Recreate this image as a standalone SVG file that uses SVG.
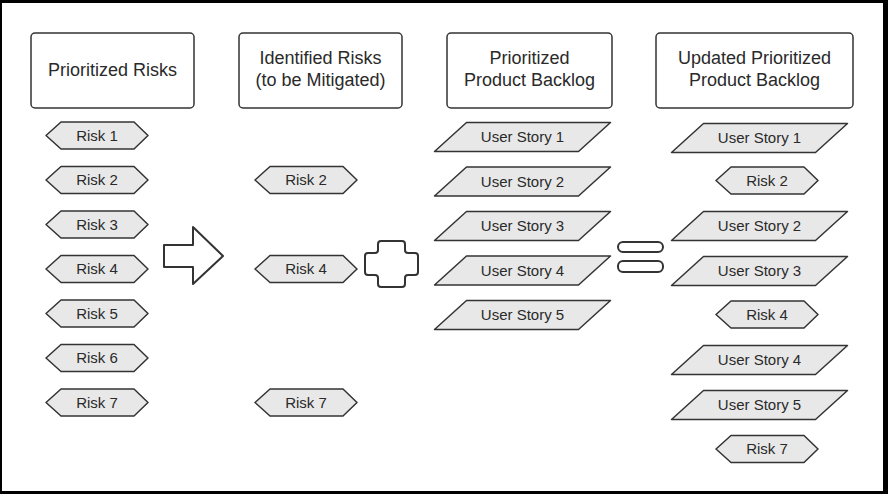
<svg xmlns="http://www.w3.org/2000/svg" xmlns:xlink="http://www.w3.org/1999/xlink" width="888" height="496" viewBox="0 0 888 496">
<style>
text{font-family:"Liberation Sans",Arial,sans-serif;fill:#2a2a2a;text-anchor:middle}
.hdr{fill:#fff;stroke:#333;stroke-width:1.5}
.hdr-t{font-size:18px}
.item{fill:#e8e8e8;stroke:#333;stroke-width:1.5;stroke-linejoin:round}
.item-t{font-size:15px}
.op{fill:#fff;stroke:#333;stroke-width:2;stroke-linejoin:round}
</style>
<defs>
<path id="hex" d="M-51,0 L-36,-13.5 L37,-13.5 L51,0 L37,13.5 L-36,13.5 Z"/>
<path id="para" d="M-56,-14.5 L88,-14.5 L56,14.5 L-88,14.5 Z"/>
</defs>
<rect x="0" y="0" width="888" height="494" fill="#000"/>
<rect x="2" y="3" width="881" height="488" fill="#fff"/>

<g id="hdr1"><rect class="hdr" x="31" y="33" width="163" height="75" rx="4"/><text class="hdr-t" x="112.5" y="76">Prioritized Risks</text></g>
<g id="hdr2"><rect class="hdr" x="239" y="33" width="163" height="75" rx="4"/><text class="hdr-t" x="320.5" y="64">Identified Risks</text><text class="hdr-t" x="320.5" y="86">(to be Mitigated)</text></g>
<g id="hdr3"><rect class="hdr" x="447" y="33" width="165" height="75" rx="4"/><text class="hdr-t" x="529.5" y="64">Prioritized</text><text class="hdr-t" x="529.5" y="86">Product Backlog</text></g>
<g id="hdr4"><rect class="hdr" x="656" y="33" width="197" height="75" rx="4"/><text class="hdr-t" x="754.5" y="64">Updated Prioritized</text><text class="hdr-t" x="754.5" y="86">Product Backlog</text></g>

<g id="c1-risk1" transform="translate(97,135.5)"><use xlink:href="#hex" class="item"/><text class="item-t" y="5">Risk 1</text></g>
<g id="c1-risk2" transform="translate(97,180)"><use xlink:href="#hex" class="item"/><text class="item-t" y="5">Risk 2</text></g>
<g id="c1-risk3" transform="translate(97,224.5)"><use xlink:href="#hex" class="item"/><text class="item-t" y="5">Risk 3</text></g>
<g id="c1-risk4" transform="translate(97,269)"><use xlink:href="#hex" class="item"/><text class="item-t" y="5">Risk 4</text></g>
<g id="c1-risk5" transform="translate(97,313.5)"><use xlink:href="#hex" class="item"/><text class="item-t" y="5">Risk 5</text></g>
<g id="c1-risk6" transform="translate(97,358)"><use xlink:href="#hex" class="item"/><text class="item-t" y="5">Risk 6</text></g>
<g id="c1-risk7" transform="translate(97,402.5)"><use xlink:href="#hex" class="item"/><text class="item-t" y="5">Risk 7</text></g>

<g id="c2-risk2" transform="translate(306,180)"><use xlink:href="#hex" class="item"/><text class="item-t" y="5">Risk 2</text></g>
<g id="c2-risk4" transform="translate(306,269)"><use xlink:href="#hex" class="item"/><text class="item-t" y="5">Risk 4</text></g>
<g id="c2-risk7" transform="translate(306,402.5)"><use xlink:href="#hex" class="item"/><text class="item-t" y="5">Risk 7</text></g>

<g id="c3-us1" transform="translate(522.5,137)"><use xlink:href="#para" class="item"/><text class="item-t" y="5">User Story 1</text></g>
<g id="c3-us2" transform="translate(522.5,181.5)"><use xlink:href="#para" class="item"/><text class="item-t" y="5">User Story 2</text></g>
<g id="c3-us3" transform="translate(522.5,226)"><use xlink:href="#para" class="item"/><text class="item-t" y="5">User Story 3</text></g>
<g id="c3-us4" transform="translate(522.5,270.5)"><use xlink:href="#para" class="item"/><text class="item-t" y="5">User Story 4</text></g>
<g id="c3-us5" transform="translate(522.5,315)"><use xlink:href="#para" class="item"/><text class="item-t" y="5">User Story 5</text></g>

<g id="c4-us1" transform="translate(759.5,138)"><use xlink:href="#para" class="item"/><text class="item-t" y="5">User Story 1</text></g>
<g id="c4-risk2" transform="translate(767,180.5)"><use xlink:href="#hex" class="item"/><text class="item-t" y="5">Risk 2</text></g>
<g id="c4-us2" transform="translate(759.5,226)"><use xlink:href="#para" class="item"/><text class="item-t" y="5">User Story 2</text></g>
<g id="c4-us3" transform="translate(759.5,271)"><use xlink:href="#para" class="item"/><text class="item-t" y="5">User Story 3</text></g>
<g id="c4-risk4" transform="translate(767,314.5)"><use xlink:href="#hex" class="item"/><text class="item-t" y="5">Risk 4</text></g>
<g id="c4-us4" transform="translate(759.5,360)"><use xlink:href="#para" class="item"/><text class="item-t" y="5">User Story 4</text></g>
<g id="c4-us5" transform="translate(759.5,405)"><use xlink:href="#para" class="item"/><text class="item-t" y="5">User Story 5</text></g>
<g id="c4-risk7" transform="translate(767,449)"><use xlink:href="#hex" class="item"/><text class="item-t" y="5">Risk 7</text></g>

<g id="operators">
<polygon class="op" points="164,245 193,245 193,227 223,256 193,284 193,267 164,267"/>
<path class="op" d="M381,241 H402 Q405,241 405,244 V250 Q405,253 408,253 H415 Q418,253 418,256 V272 Q418,275 415,275 H408 Q405,275 405,278 V284 Q405,287 402,287 H381 Q378,287 378,284 V278 Q378,275 375,275 H368 Q365,275 365,272 V256 Q365,253 368,253 H375 Q378,253 378,250 V244 Q378,241 381,241 Z"/>
<rect class="op" x="618" y="242" width="45" height="10" rx="5"/>
<rect class="op" x="618" y="261" width="45" height="11" rx="5"/>
</g>
</svg>
